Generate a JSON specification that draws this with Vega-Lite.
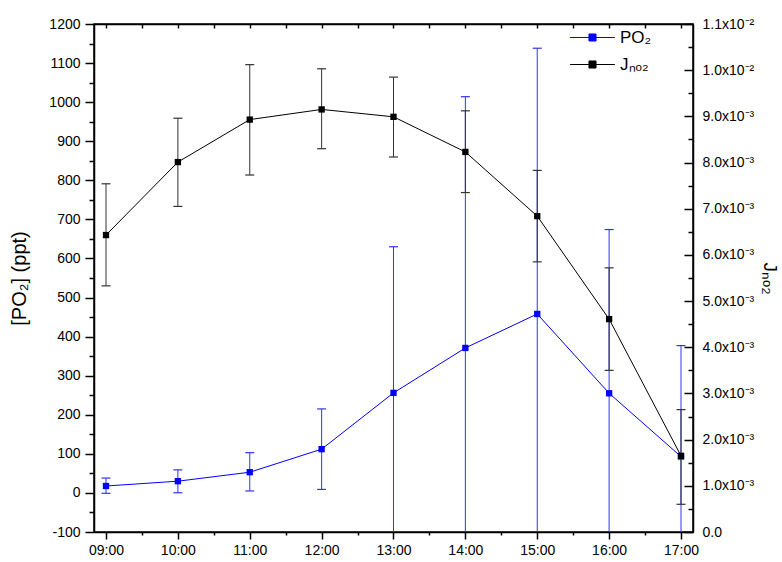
{
  "$schema": "https://vega.github.io/schema/vega-lite/v6.json",
  "width": 599,
  "height": 508,
  "autosize": {"type": "none"},
  "padding": {"left": 94, "top": 24, "right": 89, "bottom": 30},
  "background": "white",
  "config": {
    "font": "Liberation Sans",
    "view": {"stroke": "black", "strokeWidth": 1.5},
    "axis": {
      "grid": false,
      "labelFont": "Liberation Sans",
      "labelFontSize": 14,
      "labelColor": "black",
      "titleFont": "Liberation Sans",
      "titleColor": "black",
      "titleFontWeight": "normal",
      "tickColor": "black",
      "domainColor": "black",
      "tickWidth": 1.5,
      "domainWidth": 1.5
    }
  },
  "datasets": {
    "po2": [
      {"t": 9, "series": "PO₂", "v": 17.7, "lo": -1, "hi": 38},
      {"t": 10, "series": "PO₂", "v": 30, "lo": 0.5, "hi": 59},
      {"t": 11, "series": "PO₂", "v": 53, "lo": 5, "hi": 103},
      {"t": 12, "series": "PO₂", "v": 112, "lo": 9, "hi": 215},
      {"t": 13, "series": "PO₂", "v": 256, "lo": -118, "hi": 630},
      {"t": 14, "series": "PO₂", "v": 371, "lo": -271, "hi": 1014},
      {"t": 15, "series": "PO₂", "v": 458, "lo": -222, "hi": 1138},
      {"t": 16, "series": "PO₂", "v": 255, "lo": -164, "hi": 674},
      {"t": 17, "series": "PO₂", "v": 93, "lo": -191, "hi": 377}
    ],
    "jno2": [
      {"t": 9, "series": "Jₙₒ₂", "v": 0.00643, "lo": 0.00533, "hi": 0.00754},
      {"t": 10, "series": "Jₙₒ₂", "v": 0.00801, "lo": 0.00705, "hi": 0.00896},
      {"t": 11, "series": "Jₙₒ₂", "v": 0.00893, "lo": 0.00773, "hi": 0.01012},
      {"t": 12, "series": "Jₙₒ₂", "v": 0.00915, "lo": 0.0083, "hi": 0.01003},
      {"t": 13, "series": "Jₙₒ₂", "v": 0.00899, "lo": 0.00812, "hi": 0.00985},
      {"t": 14, "series": "Jₙₒ₂", "v": 0.00823, "lo": 0.00735, "hi": 0.00912},
      {"t": 15, "series": "Jₙₒ₂", "v": 0.00684, "lo": 0.00585, "hi": 0.00783},
      {"t": 16, "series": "Jₙₒ₂", "v": 0.00461, "lo": 0.0035, "hi": 0.00572},
      {"t": 17, "series": "Jₙₒ₂", "v": 0.00165, "lo": 0.0006, "hi": 0.00265}
    ]
  },
  "layer": [
    {
      "data": {"name": "po2"},
      "mark": {"type": "rule", "color": "#3333ff", "strokeWidth": 1, "clip": true},
      "encoding": {
        "x": {"field": "t", "type": "quantitative", "scale": {"domain": [8.833, 17.167], "nice": false, "zero": false},
          "axis": {"orient": "bottom", "values": [9, 10, 11, 12, 13, 14, 15, 16, 17], "tickSize": 7, "labelPadding": 4, "labelFlush": false, "title": null,
            "labelExpr": "(datum.value < 10 ? '0' : '') + datum.value + ':00'"}},
        "y": {"field": "lo", "type": "quantitative", "scale": {"domain": [-100, 1200], "nice": false, "zero": false},
          "axis": {"orient": "left", "values": [-100, 0, 100, 200, 300, 400, 500, 600, 700, 800, 900, 1000, 1100, 1200], "tickSize": 9, "labelPadding": 5,
            "labelExpr": "'' + datum.value",
            "title": "[PO₂] (ppt)", "titleFontSize": 20, "titlePadding": 19}},
        "y2": {"field": "hi"}
      }
    },
    {
      "data": {"name": "po2"},
      "mark": {"type": "tick", "orient": "horizontal", "size": 9, "thickness": 1.2, "color": "#3333ff", "opacity": 1, "clip": true},
      "encoding": {
        "x": {"field": "t", "type": "quantitative", "scale": {"domain": [8.833, 17.167], "nice": false, "zero": false},
          "axis": {"orient": "bottom", "values": [9.5, 10.5, 11.5, 12.5, 13.5, 14.5, 15.5, 16.5], "tickSize": 3, "labels": false, "domain": false, "title": null}},
        "y": {"field": "hi", "type": "quantitative", "scale": {"domain": [-100, 1200], "nice": false, "zero": false},
          "axis": {"orient": "left", "values": [-50, 50, 150, 250, 350, 450, 550, 650, 750, 850, 950, 1050, 1150], "tickSize": 5, "labels": false, "domain": false, "title": null}}
      }
    },
    {
      "data": {"name": "po2"},
      "mark": {"type": "tick", "orient": "horizontal", "size": 9, "thickness": 1.2, "color": "#3333ff", "opacity": 1, "clip": true},
      "encoding": {
        "x": {"field": "t", "type": "quantitative", "scale": {"domain": [8.833, 17.167], "nice": false, "zero": false},
          "axis": {"orient": "top", "values": [9, 9.5, 10, 10.5, 11, 11.5, 12, 12.5, 13, 13.5, 14, 14.5, 15, 15.5, 16, 16.5, 17], "tickSize": -4, "labels": false, "title": null}},
        "y": {"field": "lo", "type": "quantitative", "scale": {"domain": [-100, 1200], "nice": false, "zero": false}, "axis": null}
      }
    },
    {
      "data": {"name": "po2"},
      "mark": {"type": "line", "strokeWidth": 1},
      "encoding": {
        "x": {"field": "t", "type": "quantitative", "scale": {"domain": [8.833, 17.167], "nice": false, "zero": false}, "axis": null},
        "y": {"field": "v", "type": "quantitative", "scale": {"domain": [-100, 1200], "nice": false, "zero": false}, "axis": null},
        "color": {"field": "series", "type": "nominal",
          "scale": {"domain": ["PO₂", "Jₙₒ₂"], "range": ["#0000ff", "#000000"]},
          "legend": {
            "title": null, "orient": "none", "legendX": 482, "legendY": -3, "padding": 0,
            "symbolType": "M-1.4,0H1.4M-0.22,-0.22H0.22V0.22H-0.22Z",
            "symbolSize": 1024, "symbolStrokeWidth": 1, "symbolOpacity": 1,
            "labelFontSize": 17, "labelFont": "Liberation Sans", "labelColor": "black", "labelOffset": 11, "rowPadding": 2,
            "encode": {"symbols": {"update": {"stroke": {"scale": "color", "field": "value"}, "fill": {"scale": "color", "field": "value"}, "strokeWidth": {"value": 1}}}}
          }}
      }
    },
    {
      "data": {"name": "po2"},
      "mark": {"type": "point", "shape": "square", "filled": true, "size": 40, "opacity": 1},
      "encoding": {
        "x": {"field": "t", "type": "quantitative", "scale": {"domain": [8.833, 17.167], "nice": false, "zero": false}, "axis": null},
        "y": {"field": "v", "type": "quantitative", "scale": {"domain": [-100, 1200], "nice": false, "zero": false}, "axis": null},
        "color": {"field": "series", "type": "nominal"}
      }
    },
    {
      "data": {"name": "jno2"},
      "mark": {"type": "rule", "color": "#333333", "strokeWidth": 1, "clip": true},
      "encoding": {
        "x": {"field": "t", "type": "quantitative", "scale": {"domain": [8.833, 17.167], "nice": false, "zero": false}, "axis": null},
        "y": {"field": "lo", "type": "quantitative", "scale": {"domain": [0, 0.011], "nice": false, "zero": false},
          "axis": {"orient": "right", "values": [0, 0.001, 0.002, 0.003, 0.004, 0.005, 0.006, 0.007, 0.008, 0.009, 0.01, 0.011],
            "ticks": false, "tickSize": 0, "domain": false, "labelPadding": 9,
            "labelExpr": "datum.value == 0 ? '0.0' : (datum.value > 0.0095 ? format(datum.value * 100, '.1f') + 'x10⁻²' : format(datum.value * 1000, '.1f') + 'x10⁻³')",
            "title": "Jₙₒ₂", "titleFontSize": 19, "titlePadding": 6}},
        "y2": {"field": "hi"}
      }
    },
    {
      "data": {"name": "jno2"},
      "mark": {"type": "tick", "orient": "horizontal", "size": 9, "thickness": 1.2, "color": "#333333", "opacity": 1, "clip": true},
      "encoding": {
        "x": {"field": "t", "type": "quantitative", "scale": {"domain": [8.833, 17.167], "nice": false, "zero": false}, "axis": null},
        "y": {"field": "hi", "type": "quantitative", "scale": {"domain": [0, 0.011], "nice": false, "zero": false},
          "axis": {"orient": "right", "values": [0, 0.001, 0.002, 0.003, 0.004, 0.005, 0.006, 0.007, 0.008, 0.009, 0.01, 0.011], "tickSize": -9, "labels": false, "title": null}}
      }
    },
    {
      "data": {"name": "jno2"},
      "mark": {"type": "tick", "orient": "horizontal", "size": 9, "thickness": 1.2, "color": "#333333", "opacity": 1, "clip": true},
      "encoding": {
        "x": {"field": "t", "type": "quantitative", "scale": {"domain": [8.833, 17.167], "nice": false, "zero": false}, "axis": null},
        "y": {"field": "lo", "type": "quantitative", "scale": {"domain": [0, 0.011], "nice": false, "zero": false},
          "axis": {"orient": "right", "values": [0.0005, 0.0015, 0.0025, 0.0035, 0.0045, 0.0055, 0.0065, 0.0075, 0.0085, 0.0095, 0.0105], "tickSize": -5, "labels": false, "domain": false, "title": null}}
      }
    },
    {
      "data": {"name": "jno2"},
      "mark": {"type": "line", "strokeWidth": 1},
      "encoding": {
        "x": {"field": "t", "type": "quantitative", "scale": {"domain": [8.833, 17.167], "nice": false, "zero": false}, "axis": null},
        "y": {"field": "v", "type": "quantitative", "scale": {"domain": [0, 0.011], "nice": false, "zero": false}, "axis": null},
        "color": {"field": "series", "type": "nominal"}
      }
    },
    {
      "data": {"name": "jno2"},
      "mark": {"type": "point", "shape": "square", "filled": true, "size": 40, "opacity": 1},
      "encoding": {
        "x": {"field": "t", "type": "quantitative", "scale": {"domain": [8.833, 17.167], "nice": false, "zero": false}, "axis": null},
        "y": {"field": "v", "type": "quantitative", "scale": {"domain": [0, 0.011], "nice": false, "zero": false}, "axis": null},
        "color": {"field": "series", "type": "nominal"}
      }
    }
  ],
  "resolve": {"scale": {"y": "independent"}, "axis": {"x": "independent", "y": "independent"}}
}
